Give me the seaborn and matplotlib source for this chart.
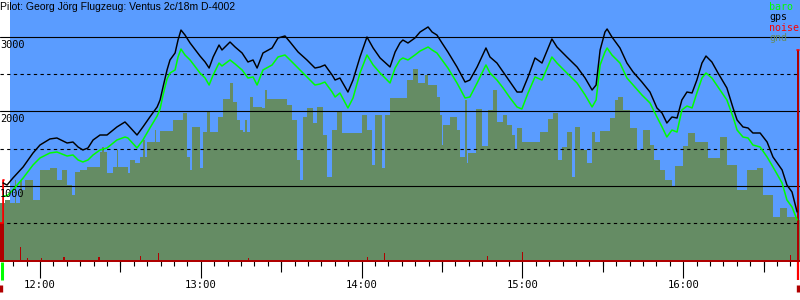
import numpy as np
import matplotlib
matplotlib.use("Agg")
import matplotlib.pyplot as plt
import matplotlib.transforms as mtransforms
import seaborn as sns

# ---------------- data ----------------
title = "Pilot: Georg Jörg Flugzeug: Ventus 2c/18m D-4002"
hour_ticks = [0, 60, 120, 180, 240]            # minutes after 12:00
hour_labels = ["12:00", "13:00", "14:00", "15:00", "16:00"]
alt_labels = [1000, 2000, 3000]
legend_names = ["baro", "gps", "noise", "gnd"]

# fixes: minutes after 12:00
fix_min = [-13.8, -12.3, -10.1, -6.3, -2.6, 0.0, 3.7, 6.3, 10.1, 12.3,
           14.2, 16.0, 17.9, 19.8, 22.4, 25.0, 28.7, 31.7, 32.8, 36.2,
           38.4, 41.0, 43.7, 44.8, 45.9, 47.4, 48.5, 50.4, 51.5, 52.6,
           54.1, 56.0, 59.7, 61.6, 63.1, 64.6, 66.8, 67.9, 70.9, 72.8,
           75.4, 77.6, 79.5, 81.0, 83.2, 86.6, 88.8, 91.4, 93.3, 96.3,
           99.6, 102.6, 104.5, 106.3, 109.0, 110.1, 111.9, 114.9, 116.8, 119.4,
           122.0, 124.3, 126.9, 130.6, 132.5, 134.3, 135.4, 137.3, 139.9, 141.8,
           144.8, 146.3, 148.1, 150.0, 152.2, 155.6, 158.6, 160.4, 163.1, 166.4,
           167.9, 170.5, 172.8, 175.4, 178.0, 179.8, 182.1, 184.7, 187.3, 191.0,
           192.9, 196.6, 200.4, 203.4, 206.0, 207.5, 209.0, 210.8, 211.6, 213.4,
           216.4, 219.0, 221.3, 224.6, 227.6, 230.2, 232.1, 233.9, 235.8, 237.7,
           239.5, 241.4, 243.3, 245.1, 247.0, 248.5, 250.7, 253.0, 256.3, 258.6,
           260.1, 262.3, 264.2, 266.0, 268.7, 271.3, 273.5, 276.9, 278.7, 280.6, 282.5]
gps_alt = [1040, 1013, 1107, 1255, 1443, 1550, 1631, 1644, 1577, 1590,
           1523, 1483, 1510, 1617, 1684, 1684, 1792, 1859, 1818, 1684,
           1792, 1926, 2060, 2154, 2328, 2557, 2691, 2785, 2959, 3093,
           3026, 2919, 2744, 2664, 2583, 2731, 2892, 2825, 2932, 2865,
           2785, 2664, 2691, 2583, 2785, 2852, 2986, 3013, 2932, 2798,
           2691, 2583, 2597, 2624, 2489, 2422, 2449, 2261, 2422, 2731,
           2999, 2852, 2718, 2597, 2798, 2919, 2959, 2919, 2986, 3066,
           3134, 3066, 3026, 2919, 2798, 2597, 2395, 2422, 2597, 2852,
           2731, 2650, 2530, 2395, 2261, 2261, 2463, 2718, 2650, 2973,
           2865, 2731, 2597, 2449, 2288, 2355, 2825, 3066, 3107, 3000,
           2852, 2650, 2530, 2395, 2261, 2047, 1979, 1845, 1926, 1912,
           2154, 2261, 2248, 2422, 2650, 2744, 2664, 2516, 2315, 2047,
           1886, 1792, 1778, 1711, 1711, 1590, 1389, 1215, 1013, 919, 651]
baro_alt = [866, 866, 946, 1107, 1282, 1376, 1443, 1456, 1402, 1416,
            1349, 1322, 1349, 1416, 1483, 1510, 1617, 1657, 1644, 1510,
            1617, 1778, 1939, 2033, 2221, 2436, 2516, 2557, 2731, 2838,
            2758, 2691, 2516, 2449, 2355, 2489, 2650, 2610, 2691, 2637,
            2557, 2449, 2463, 2355, 2557, 2624, 2731, 2758, 2691, 2583,
            2463, 2355, 2369, 2395, 2261, 2194, 2248, 2047, 2181, 2516,
            2758, 2624, 2516, 2382, 2583, 2691, 2718, 2691, 2758, 2811,
            2865, 2825, 2785, 2691, 2583, 2382, 2181, 2194, 2382, 2624,
            2516, 2422, 2315, 2181, 2060, 2033, 2248, 2463, 2422, 2731,
            2650, 2516, 2382, 2221, 2060, 2154, 2624, 2798, 2852, 2758,
            2650, 2449, 2355, 2221, 2114, 1926, 1792, 1657, 1751, 1724,
            2020, 2073, 2047, 2248, 2449, 2516, 2449, 2328, 2154, 1926,
            1751, 1657, 1644, 1550, 1523, 1389, 1255, 1040, 812, 718, 544]

# ground profile (step), minutes after 12:00
gnd_min = [-14.9, -13.1, -11.2, -9.3, -9.0, -7.5, -6.7, -5.6, -2.6, 0.0,
           3.7, 6.3, 8.2, 10.1, 11.9, 13.1, 14.9, 17.5, 22.4, 23.1,
           23.9, 25.0, 27.2, 28.7, 29.1, 32.8, 33.6, 35.4, 37.3, 38.4,
           39.2, 39.9, 42.9, 43.3, 44.8, 49.6, 53.4, 54.9, 56.0, 56.7,
           59.7, 60.8, 62.3, 63.4, 66.4, 68.3, 70.9, 72.0, 73.5, 74.6,
           75.7, 76.5, 77.2, 78.4, 79.5, 82.8, 84.0, 84.7, 92.2, 94.0,
           95.9, 97.0, 98.1, 99.6, 101.9, 103.4, 105.6, 107.1, 109.0, 110.8,
           112.7, 120.1, 122.0, 123.9, 125.0, 127.6, 128.7, 130.6, 136.9, 139.2,
           141.0, 143.7, 144.8, 148.1, 149.3, 150.0, 150.4, 153.0, 155.6, 156.7,
           158.6, 159.3, 159.7, 162.7, 164.9, 167.2, 169.0, 170.5, 172.8, 174.3,
           176.1, 177.2, 178.0, 179.8, 186.6, 189.5, 191.4, 193.3, 194.8, 196.6,
           198.5, 199.6, 201.5, 204.1, 206.0, 207.1, 209.0, 212.7, 214.6, 215.7,
           217.5, 220.1, 222.8, 225.0, 227.6, 229.0, 231.3, 233.2, 235.8, 236.9,
           239.9, 241.8, 244.4, 249.3, 253.7, 256.3, 260.1, 263.8, 267.5, 269.8,
           273.5, 276.1, 278.7, 282.5, 283.6]
gnd_alt = [772, 812, 772, 1080, 772, 1080, 946, 1080, 812, 1215,
           1241, 1080, 1215, 1013, 879, 1188, 1215, 1255, 1456, 1523,
           1456, 1174, 1255, 1483, 1255, 1174, 1349, 1308, 1389, 1617,
           1389, 1590, 1751, 1590, 1738, 1886, 1979, 1389, 1215, 1792,
           1241, 1724, 1993, 1724, 1926, 2167, 2382, 2127, 1886, 1751,
           1724, 1886, 1724, 2194, 2060, 2047, 2288, 2167, 2087, 1886,
           1349, 1080, 1926, 2047, 1845, 2060, 1684, 1121, 1751, 1993,
           1711, 1953, 1751, 1282, 1953, 1241, 1953, 2181, 2422, 2570,
           2382, 2489, 2355, 2194, 1953, 1550, 1818, 1926, 1751, 1389,
           2154, 1308, 1443, 2033, 1537, 2020, 2288, 1859, 1953, 1818,
           1684, 1483, 1778, 1590, 1724, 1899, 1979, 1349, 1523, 1724,
           1121, 1792, 1483, 1308, 1724, 1590, 1738, 1912, 2154, 2194,
           2020, 1778, 1483, 1751, 1550, 1349, 1215, 1080, 986, 1268,
           1537, 1711, 1590, 1376, 1657, 1282, 946, 1215, 1241, 879,
           584, 705, 584, 544, 544]

# noise level (step), same vertical scale
noise_min = [-14.9, -13.8, -13.3, -7.5, -7.1, -4.9, -4.5, 0.4, 0.7, 8.6,
             9.3, 21.6, 22.4, 37.3, 37.7, 44.0, 44.4, 77.6, 78.0, 122.0,
             122.4, 128.4, 128.7, 166.8, 167.2, 179.8, 180.2, 279.8, 280.2, 282.5,
             283.2, 283.6]
noise_val = [500, 1080, 12, 181, 12, 34, 12, 34, 12, 47,
             12, 47, 12, 60, 12, 100, 12, 34, 12, 47,
             12, 100, 12, 60, 12, 114, 12, 74, 12, 2825,
             12, 12]

logger_on_min = -11.2     # start of recorded sky area

# ---------------- style ----------------
SKY = "#5a9cff"
GND = "#658c64"
BARO = "#00ff00"
NOISE_DARK = "#b00000"
NOISE = "#ff0000"

sns.set_theme(style="ticks")
plt.rcParams["font.family"] = ["DejaVu Sans Mono", "DejaVu Sans"]
plt.rcParams["lines.scale_dashes"] = False

fig = plt.figure(figsize=(8, 3), dpi=100)
ax = fig.add_axes([0, 0.13, 1, 0.87])
ax.set_facecolor("white")
xmin, xmax = -14.93, 283.58
ax.set_xlim(xmin, xmax)
ax.set_ylim(-7, 3496)
for s in ax.spines.values():
    s.set_visible(False)

ax.axvspan(logger_on_min, xmax, color=SKY, lw=0, zorder=0)
ax.fill_between(gnd_min, gnd_alt, -20, step="post", color=GND, lw=0, zorder=2)

for v in range(500, 3500, 500):
    if v % 1000 == 0:
        ax.axhline(v, color="black", lw=0.8, zorder=3)
    else:
        ax.axhline(v, color="black", lw=0.8, dashes=(2.4, 2.4), zorder=3)

nm = np.array(noise_min)
nv = np.array(noise_val, dtype=float)
ax.fill_between(nm, nv, -20, step="post", color=NOISE_DARK, lw=0, zorder=4)
ax.step(nm, np.where(nv > 200, nv, np.nan), where="post", color=NOISE, lw=1.2, zorder=4.5)

sns.lineplot(x=fix_min, y=baro_alt, color=BARO, lw=1.1, estimator=None, ax=ax, zorder=5)
sns.lineplot(x=fix_min, y=gps_alt, color="black", lw=1.05, estimator=None, ax=ax, zorder=6)

# takeoff / landing markers below the axis
bt = mtransforms.blended_transform_factory(ax.transData, ax.transAxes)
ax.plot([gnd_min[0] + 0.6] * 2, [-0.004, -0.072], color=BARO, lw=2.2,
        transform=bt, clip_on=False, zorder=6, solid_capstyle="butt")
ax.plot([noise_min[-3] + 0.25] * 2, [-0.004, -0.072], color=NOISE, lw=1.6,
        transform=bt, clip_on=False, zorder=6, solid_capstyle="butt")
ax.plot([gnd_min[0] + 0.5] * 2, [-0.092, -0.12], color=NOISE_DARK, lw=2.4,
        transform=bt, clip_on=False, zorder=6, solid_capstyle="butt")
ax.plot([noise_min[-3] + 0.5] * 2, [-0.092, -0.12], color=NOISE_DARK, lw=2.4,
        transform=bt, clip_on=False, zorder=6, solid_capstyle="butt")

# x ticks
ax.set_xticks(hour_ticks, hour_labels)
ax.set_xticks(np.arange(-10, 285, 5), minor=True)
ax.tick_params(axis="x", which="major", length=12.4, width=0.8, color="black",
               pad=1.5, labelsize=7.6, bottom=True, labelcolor="black")
ax.tick_params(axis="x", which="minor", length=3.7, width=0.8, color="black", bottom=True)
ax.tick_params(axis="y", left=False, labelleft=False)
ax.set_xlabel("")
ax.set_ylabel("")
sec = ax.secondary_xaxis("bottom")
sec.set_xticks([30, 90, 150, 210, 270])
sec.tick_params(length=8.0, width=0.8, color="black", labelbottom=False)
sec.spines["bottom"].set_visible(False)

# altitude labels inside the plot
lt = mtransforms.blended_transform_factory(ax.transAxes, ax.transData) + \
    mtransforms.ScaledTranslation(0, -3 / 100, fig.dpi_scale_trans)
for v in alt_labels:
    ax.text(0.0, v, str(v), transform=lt, ha="left", va="top", fontsize=7.4,
            color="black", zorder=10)

# title
fig.text(0.0, 1 - 2 / 300, title, ha="left", va="top", fontsize=7.5,
         family=["Liberation Sans", "DejaVu Sans"], color="black", zorder=10)

# legend text
leg_colors = [BARO, "black", NOISE, GND]
for i, (name, c) in enumerate(zip(legend_names, leg_colors)):
    fig.text(769 / 800, 1 - (2 + 10.3 * i) / 300, name, ha="left", va="top",
             fontsize=7.2, color=c, zorder=10)

fig.savefig("out.png", dpi=100)
